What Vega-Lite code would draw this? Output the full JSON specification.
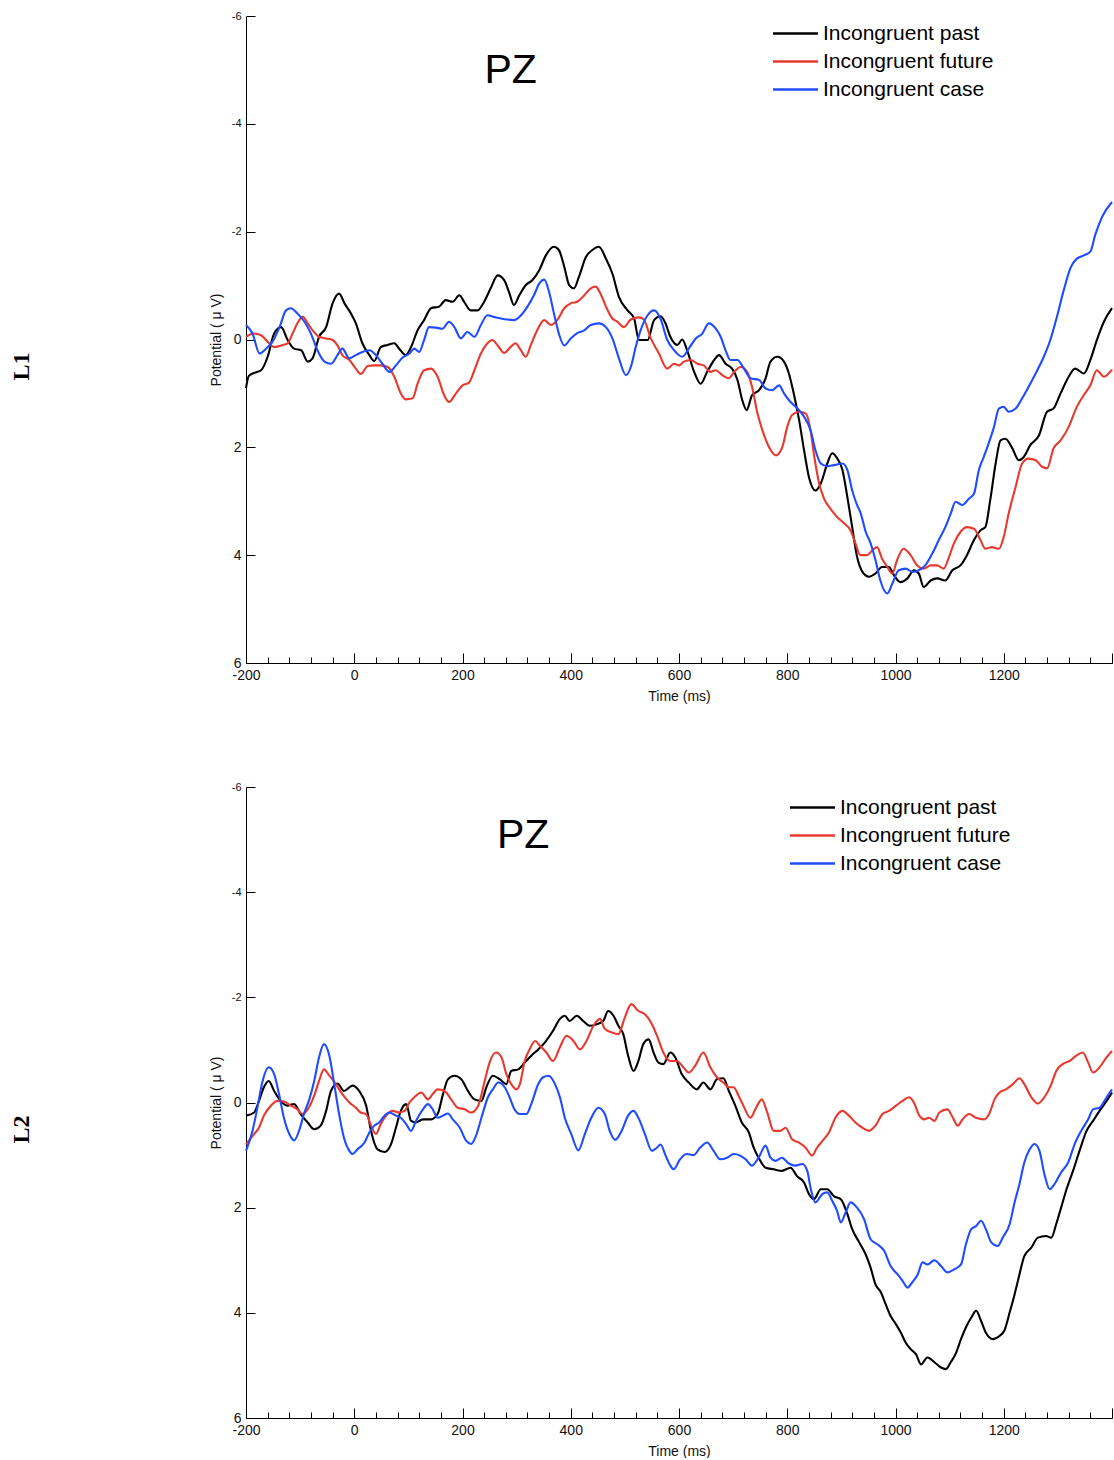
{
  "$schema": "https://vega.github.io/schema/vega-lite/v6.json",
  "padding": {"left": 10, "top": 10, "right": 2, "bottom": 0},
  "background": "white",
  "config": {
    "view": {"stroke": null},
    "font": "Liberation Sans",
    "axis": {"grid": false, "domainColor": "black", "tickColor": "black", "labelColor": "#111", "titleColor": "#111", "labelFont": "Liberation Sans", "titleFont": "Liberation Sans", "titleFontWeight": "normal", "labelFontSize": 14, "titleFontSize": 14, "domainWidth": 1, "tickWidth": 1}
  },
  "datasets": {
    "l1": [
      {"s":"past","t":-200,"v":0.9},{"s":"past","t":-195,"v":0.68},{"s":"past","t":-185,"v":0.62},{"s":"past","t":-172,"v":0.57},{"s":"past","t":-160,"v":0.32},{"s":"past","t":-148,"v":-0.11},{"s":"past","t":-135,"v":-0.23},{"s":"past","t":-123,"v":0.01},{"s":"past","t":-111,"v":0.17},{"s":"past","t":-98,"v":0.2},{"s":"past","t":-86,"v":0.41},{"s":"past","t":-77,"v":0.35},{"s":"past","t":-65,"v":-0.05},{"s":"past","t":-52,"v":-0.23},{"s":"past","t":-40,"v":-0.67},{"s":"past","t":-28,"v":-0.85},{"s":"past","t":-18,"v":-0.67},{"s":"past","t":-6,"v":-0.48},{"s":"past","t":3,"v":-0.3},{"s":"past","t":15,"v":0.07},{"s":"past","t":28,"v":0.29},{"s":"past","t":37,"v":0.4},{"s":"past","t":49,"v":0.14},{"s":"past","t":62,"v":0.1},{"s":"past","t":74,"v":0.07},{"s":"past","t":83,"v":0.17},{"s":"past","t":95,"v":0.29},{"s":"past","t":105,"v":0.14},{"s":"past","t":117,"v":-0.17},{"s":"past","t":129,"v":-0.36},{"s":"past","t":142,"v":-0.58},{"s":"past","t":157,"v":-0.61},{"s":"past","t":169,"v":-0.73},{"s":"past","t":182,"v":-0.7},{"s":"past","t":194,"v":-0.82},{"s":"past","t":203,"v":-0.7},{"s":"past","t":215,"v":-0.54},{"s":"past","t":228,"v":-0.54},{"s":"past","t":240,"v":-0.7},{"s":"past","t":252,"v":-0.95},{"s":"past","t":265,"v":-1.19},{"s":"past","t":277,"v":-1.1},{"s":"past","t":286,"v":-0.88},{"s":"past","t":295,"v":-0.64},{"s":"past","t":305,"v":-0.82},{"s":"past","t":317,"v":-1.01},{"s":"past","t":329,"v":-1.1},{"s":"past","t":342,"v":-1.29},{"s":"past","t":354,"v":-1.56},{"s":"past","t":369,"v":-1.72},{"s":"past","t":378,"v":-1.66},{"s":"past","t":388,"v":-1.35},{"s":"past","t":397,"v":-1.01},{"s":"past","t":406,"v":-0.95},{"s":"past","t":415,"v":-1.16},{"s":"past","t":428,"v":-1.53},{"s":"past","t":440,"v":-1.66},{"s":"past","t":452,"v":-1.72},{"s":"past","t":465,"v":-1.5},{"s":"past","t":477,"v":-1.22},{"s":"past","t":489,"v":-0.79},{"s":"past","t":505,"v":-0.54},{"s":"past","t":517,"v":-0.39},{"s":"past","t":526,"v":0.01},{"s":"past","t":542,"v":0.01},{"s":"past","t":554,"v":-0.36},{"s":"past","t":566,"v":-0.43},{"s":"past","t":575,"v":-0.3},{"s":"past","t":584,"v":-0.05},{"s":"past","t":597,"v":0.1},{"s":"past","t":606,"v":0},{"s":"past","t":615,"v":0.2},{"s":"past","t":628,"v":0.6},{"s":"past","t":640,"v":0.82},{"s":"past","t":652,"v":0.6},{"s":"past","t":665,"v":0.38},{"s":"past","t":674,"v":0.29},{"s":"past","t":686,"v":0.45},{"s":"past","t":698,"v":0.54},{"s":"past","t":708,"v":0.75},{"s":"past","t":717,"v":1.13},{"s":"past","t":725,"v":1.31},{"s":"past","t":735,"v":1.03},{"s":"past","t":748,"v":0.94},{"s":"past","t":760,"v":0.72},{"s":"past","t":769,"v":0.41},{"s":"past","t":782,"v":0.32},{"s":"past","t":794,"v":0.41},{"s":"past","t":803,"v":0.63},{"s":"past","t":812,"v":1.0},{"s":"past","t":822,"v":1.5},{"s":"past","t":831,"v":2.05},{"s":"past","t":840,"v":2.55},{"s":"past","t":852,"v":2.8},{"s":"past","t":862,"v":2.67},{"s":"past","t":874,"v":2.3},{"s":"past","t":883,"v":2.11},{"s":"past","t":892,"v":2.2},{"s":"past","t":902,"v":2.42},{"s":"past","t":911,"v":2.92},{"s":"past","t":920,"v":3.48},{"s":"past","t":929,"v":4.03},{"s":"past","t":939,"v":4.31},{"s":"past","t":951,"v":4.4},{"s":"past","t":963,"v":4.34},{"s":"past","t":975,"v":4.22},{"s":"past","t":988,"v":4.22},{"s":"past","t":997,"v":4.37},{"s":"past","t":1009,"v":4.5},{"s":"past","t":1022,"v":4.43},{"s":"past","t":1034,"v":4.28},{"s":"past","t":1043,"v":4.34},{"s":"past","t":1052,"v":4.59},{"s":"past","t":1065,"v":4.47},{"s":"past","t":1077,"v":4.43},{"s":"past","t":1092,"v":4.47},{"s":"past","t":1105,"v":4.28},{"s":"past","t":1120,"v":4.19},{"s":"past","t":1132,"v":4.0},{"s":"past","t":1145,"v":3.72},{"s":"past","t":1157,"v":3.54},{"s":"past","t":1166,"v":3.48},{"s":"past","t":1175,"v":2.98},{"s":"past","t":1185,"v":2.3},{"s":"past","t":1194,"v":1.87},{"s":"past","t":1203,"v":1.84},{"s":"past","t":1215,"v":2.0},{"s":"past","t":1228,"v":2.24},{"s":"past","t":1237,"v":2.18},{"s":"past","t":1249,"v":1.96},{"s":"past","t":1265,"v":1.78},{"s":"past","t":1280,"v":1.34},{"s":"past","t":1292,"v":1.28},{"s":"past","t":1305,"v":1.0},{"s":"past","t":1320,"v":0.69},{"s":"past","t":1332,"v":0.54},{"s":"past","t":1348,"v":0.63},{"s":"past","t":1360,"v":0.38},{"s":"past","t":1372,"v":0.01},{"s":"past","t":1385,"v":-0.33},{"s":"past","t":1400,"v":-0.58},
      {"s":"future","t":-200,"v":-0.05},{"s":"future","t":-185,"v":-0.11},{"s":"future","t":-172,"v":-0.08},{"s":"future","t":-160,"v":0.04},{"s":"future","t":-148,"v":0.14},{"s":"future","t":-135,"v":0.11},{"s":"future","t":-123,"v":0.07},{"s":"future","t":-114,"v":-0.11},{"s":"future","t":-105,"v":-0.3},{"s":"future","t":-95,"v":-0.42},{"s":"future","t":-86,"v":-0.3},{"s":"future","t":-77,"v":-0.17},{"s":"future","t":-65,"v":-0.05},{"s":"future","t":-52,"v":-0.02},{"s":"future","t":-40,"v":0.01},{"s":"future","t":-31,"v":0.11},{"s":"future","t":-22,"v":0.29},{"s":"future","t":-9,"v":0.38},{"s":"future","t":3,"v":0.54},{"s":"future","t":12,"v":0.64},{"s":"future","t":25,"v":0.49},{"s":"future","t":37,"v":0.48},{"s":"future","t":49,"v":0.48},{"s":"future","t":62,"v":0.51},{"s":"future","t":74,"v":0.69},{"s":"future","t":86,"v":1.0},{"s":"future","t":95,"v":1.11},{"s":"future","t":108,"v":1.09},{"s":"future","t":117,"v":0.82},{"s":"future","t":129,"v":0.57},{"s":"future","t":142,"v":0.54},{"s":"future","t":154,"v":0.69},{"s":"future","t":166,"v":1.03},{"s":"future","t":175,"v":1.16},{"s":"future","t":188,"v":1.0},{"s":"future","t":200,"v":0.85},{"s":"future","t":212,"v":0.8},{"s":"future","t":222,"v":0.57},{"s":"future","t":234,"v":0.26},{"s":"future","t":246,"v":0.07},{"s":"future","t":255,"v":0.01},{"s":"future","t":265,"v":0.11},{"s":"future","t":277,"v":0.25},{"s":"future","t":286,"v":0.17},{"s":"future","t":298,"v":0.07},{"s":"future","t":308,"v":0.2},{"s":"future","t":317,"v":0.32},{"s":"future","t":326,"v":0.11},{"s":"future","t":338,"v":-0.17},{"s":"future","t":351,"v":-0.36},{"s":"future","t":363,"v":-0.27},{"s":"future","t":375,"v":-0.36},{"s":"future","t":388,"v":-0.58},{"s":"future","t":400,"v":-0.67},{"s":"future","t":412,"v":-0.7},{"s":"future","t":425,"v":-0.82},{"s":"future","t":437,"v":-0.95},{"s":"future","t":446,"v":-0.98},{"s":"future","t":455,"v":-0.85},{"s":"future","t":465,"v":-0.61},{"s":"future","t":477,"v":-0.39},{"s":"future","t":486,"v":-0.33},{"s":"future","t":498,"v":-0.23},{"s":"future","t":511,"v":-0.37},{"s":"future","t":526,"v":-0.41},{"s":"future","t":535,"v":-0.37},{"s":"future","t":548,"v":-0.02},{"s":"future","t":563,"v":0.26},{"s":"future","t":578,"v":0.54},{"s":"future","t":591,"v":0.45},{"s":"future","t":600,"v":0.48},{"s":"future","t":609,"v":0.41},{"s":"future","t":622,"v":0.38},{"s":"future","t":634,"v":0.45},{"s":"future","t":646,"v":0.48},{"s":"future","t":658,"v":0.6},{"s":"future","t":668,"v":0.57},{"s":"future","t":680,"v":0.66},{"s":"future","t":692,"v":0.72},{"s":"future","t":702,"v":0.6},{"s":"future","t":714,"v":0.51},{"s":"future","t":726,"v":0.6},{"s":"future","t":735,"v":0.88},{"s":"future","t":745,"v":1.37},{"s":"future","t":754,"v":1.68},{"s":"future","t":766,"v":1.99},{"s":"future","t":779,"v":2.15},{"s":"future","t":791,"v":1.99},{"s":"future","t":800,"v":1.62},{"s":"future","t":809,"v":1.4},{"s":"future","t":822,"v":1.34},{"s":"future","t":834,"v":1.37},{"s":"future","t":843,"v":1.68},{"s":"future","t":849,"v":2.11},{"s":"future","t":859,"v":2.67},{"s":"future","t":868,"v":2.95},{"s":"future","t":880,"v":3.14},{"s":"future","t":892,"v":3.29},{"s":"future","t":905,"v":3.41},{"s":"future","t":917,"v":3.54},{"s":"future","t":926,"v":3.78},{"s":"future","t":935,"v":4.0},{"s":"future","t":948,"v":4.0},{"s":"future","t":957,"v":3.91},{"s":"future","t":966,"v":3.85},{"s":"future","t":975,"v":4.06},{"s":"future","t":985,"v":4.22},{"s":"future","t":994,"v":4.34},{"s":"future","t":1003,"v":4.09},{"s":"future","t":1015,"v":3.88},{"s":"future","t":1028,"v":4.0},{"s":"future","t":1040,"v":4.19},{"s":"future","t":1052,"v":4.25},{"s":"future","t":1065,"v":4.19},{"s":"future","t":1077,"v":4.19},{"s":"future","t":1089,"v":4.25},{"s":"future","t":1099,"v":4.03},{"s":"future","t":1108,"v":3.78},{"s":"future","t":1120,"v":3.57},{"s":"future","t":1132,"v":3.48},{"s":"future","t":1145,"v":3.51},{"s":"future","t":1157,"v":3.72},{"s":"future","t":1166,"v":3.88},{"s":"future","t":1178,"v":3.85},{"s":"future","t":1191,"v":3.88},{"s":"future","t":1200,"v":3.66},{"s":"future","t":1209,"v":3.23},{"s":"future","t":1222,"v":2.73},{"s":"future","t":1234,"v":2.3},{"s":"future","t":1246,"v":2.21},{"s":"future","t":1259,"v":2.24},{"s":"future","t":1271,"v":2.36},{"s":"future","t":1280,"v":2.39},{"s":"future","t":1292,"v":2.02},{"s":"future","t":1305,"v":1.87},{"s":"future","t":1320,"v":1.62},{"s":"future","t":1335,"v":1.25},{"s":"future","t":1348,"v":1.03},{"s":"future","t":1360,"v":0.85},{"s":"future","t":1372,"v":0.57},{"s":"future","t":1385,"v":0.69},{"s":"future","t":1400,"v":0.56},
      {"s":"case","t":-200,"v":-0.27},{"s":"case","t":-188,"v":-0.11},{"s":"case","t":-175,"v":0.26},{"s":"case","t":-163,"v":0.17},{"s":"case","t":-151,"v":0.04},{"s":"case","t":-138,"v":-0.23},{"s":"case","t":-126,"v":-0.54},{"s":"case","t":-117,"v":-0.58},{"s":"case","t":-105,"v":-0.48},{"s":"case","t":-92,"v":-0.33},{"s":"case","t":-80,"v":-0.11},{"s":"case","t":-68,"v":0.2},{"s":"case","t":-55,"v":0.41},{"s":"case","t":-43,"v":0.45},{"s":"case","t":-31,"v":0.29},{"s":"case","t":-22,"v":0.17},{"s":"case","t":-9,"v":0.35},{"s":"case","t":3,"v":0.29},{"s":"case","t":15,"v":0.23},{"s":"case","t":28,"v":0.2},{"s":"case","t":40,"v":0.29},{"s":"case","t":52,"v":0.45},{"s":"case","t":65,"v":0.6},{"s":"case","t":77,"v":0.48},{"s":"case","t":89,"v":0.34},{"s":"case","t":102,"v":0.26},{"s":"case","t":111,"v":0.17},{"s":"case","t":120,"v":0.23},{"s":"case","t":129,"v":0.01},{"s":"case","t":138,"v":-0.23},{"s":"case","t":151,"v":-0.22},{"s":"case","t":163,"v":-0.2},{"s":"case","t":175,"v":-0.33},{"s":"case","t":185,"v":-0.23},{"s":"case","t":197,"v":-0.02},{"s":"case","t":209,"v":-0.14},{"s":"case","t":222,"v":-0.05},{"s":"case","t":234,"v":-0.27},{"s":"case","t":246,"v":-0.45},{"s":"case","t":258,"v":-0.42},{"s":"case","t":271,"v":-0.39},{"s":"case","t":283,"v":-0.37},{"s":"case","t":295,"v":-0.36},{"s":"case","t":308,"v":-0.45},{"s":"case","t":320,"v":-0.61},{"s":"case","t":332,"v":-0.82},{"s":"case","t":342,"v":-1.04},{"s":"case","t":351,"v":-1.11},{"s":"case","t":360,"v":-0.88},{"s":"case","t":369,"v":-0.48},{"s":"case","t":378,"v":-0.11},{"s":"case","t":388,"v":0.11},{"s":"case","t":400,"v":-0.02},{"s":"case","t":412,"v":-0.12},{"s":"case","t":425,"v":-0.17},{"s":"case","t":437,"v":-0.27},{"s":"case","t":452,"v":-0.3},{"s":"case","t":465,"v":-0.23},{"s":"case","t":477,"v":-0.02},{"s":"case","t":489,"v":0.35},{"s":"case","t":502,"v":0.66},{"s":"case","t":511,"v":0.51},{"s":"case","t":520,"v":0.14},{"s":"case","t":529,"v":-0.17},{"s":"case","t":542,"v":-0.45},{"s":"case","t":554,"v":-0.54},{"s":"case","t":566,"v":-0.38},{"s":"case","t":578,"v":0.0},{"s":"case","t":591,"v":0.2},{"s":"case","t":606,"v":0.32},{"s":"case","t":618,"v":0.17},{"s":"case","t":631,"v":-0.02},{"s":"case","t":643,"v":-0.11},{"s":"case","t":655,"v":-0.3},{"s":"case","t":668,"v":-0.2},{"s":"case","t":677,"v":-0.05},{"s":"case","t":686,"v":0.2},{"s":"case","t":695,"v":0.38},{"s":"case","t":708,"v":0.38},{"s":"case","t":720,"v":0.54},{"s":"case","t":732,"v":0.72},{"s":"case","t":748,"v":0.75},{"s":"case","t":760,"v":0.91},{"s":"case","t":772,"v":0.94},{"s":"case","t":785,"v":0.85},{"s":"case","t":794,"v":1.0},{"s":"case","t":806,"v":1.16},{"s":"case","t":819,"v":1.28},{"s":"case","t":831,"v":1.43},{"s":"case","t":843,"v":1.68},{"s":"case","t":852,"v":2.05},{"s":"case","t":862,"v":2.3},{"s":"case","t":874,"v":2.35},{"s":"case","t":886,"v":2.33},{"s":"case","t":902,"v":2.3},{"s":"case","t":911,"v":2.42},{"s":"case","t":920,"v":2.8},{"s":"case","t":929,"v":3.07},{"s":"case","t":935,"v":3.2},{"s":"case","t":945,"v":3.57},{"s":"case","t":954,"v":3.78},{"s":"case","t":963,"v":4.09},{"s":"case","t":972,"v":4.47},{"s":"case","t":985,"v":4.71},{"s":"case","t":994,"v":4.53},{"s":"case","t":1006,"v":4.28},{"s":"case","t":1019,"v":4.25},{"s":"case","t":1031,"v":4.31},{"s":"case","t":1043,"v":4.28},{"s":"case","t":1055,"v":4.19},{"s":"case","t":1068,"v":3.97},{"s":"case","t":1080,"v":3.72},{"s":"case","t":1092,"v":3.48},{"s":"case","t":1102,"v":3.23},{"s":"case","t":1111,"v":3.01},{"s":"case","t":1123,"v":3.07},{"s":"case","t":1136,"v":2.95},{"s":"case","t":1145,"v":2.86},{"s":"case","t":1154,"v":2.42},{"s":"case","t":1163,"v":2.18},{"s":"case","t":1172,"v":1.93},{"s":"case","t":1182,"v":1.62},{"s":"case","t":1191,"v":1.28},{"s":"case","t":1200,"v":1.25},{"s":"case","t":1209,"v":1.34},{"s":"case","t":1222,"v":1.28},{"s":"case","t":1234,"v":1.09},{"s":"case","t":1249,"v":0.82},{"s":"case","t":1262,"v":0.57},{"s":"case","t":1274,"v":0.32},{"s":"case","t":1286,"v":0.01},{"s":"case","t":1299,"v":-0.45},{"s":"case","t":1311,"v":-0.92},{"s":"case","t":1323,"v":-1.32},{"s":"case","t":1335,"v":-1.5},{"s":"case","t":1348,"v":-1.56},{"s":"case","t":1360,"v":-1.63},{"s":"case","t":1369,"v":-1.94},{"s":"case","t":1382,"v":-2.28},{"s":"case","t":1400,"v":-2.55}
    ],
    "l2": [
      {"s":"past","t":-200,"v":0.25},{"s":"past","t":-185,"v":0.19},{"s":"past","t":-176,"v":-0.03},{"s":"past","t":-167,"v":-0.29},{"s":"past","t":-158,"v":-0.41},{"s":"past","t":-148,"v":-0.22},{"s":"past","t":-136,"v":-0.03},{"s":"past","t":-124,"v":0.06},{"s":"past","t":-111,"v":0.03},{"s":"past","t":-99,"v":0.22},{"s":"past","t":-86,"v":0.38},{"s":"past","t":-74,"v":0.51},{"s":"past","t":-62,"v":0.44},{"s":"past","t":-52,"v":0.16},{"s":"past","t":-43,"v":-0.22},{"s":"past","t":-31,"v":-0.36},{"s":"past","t":-19,"v":-0.22},{"s":"past","t":-3,"v":-0.32},{"s":"past","t":9,"v":-0.22},{"s":"past","t":22,"v":0.06},{"s":"past","t":31,"v":0.54},{"s":"past","t":43,"v":0.89},{"s":"past","t":56,"v":0.94},{"s":"past","t":68,"v":0.79},{"s":"past","t":77,"v":0.48},{"s":"past","t":86,"v":0.16},{"s":"past","t":96,"v":0.03},{"s":"past","t":105,"v":0.35},{"s":"past","t":114,"v":0.38},{"s":"past","t":127,"v":0.32},{"s":"past","t":142,"v":0.32},{"s":"past","t":154,"v":0.22},{"s":"past","t":164,"v":-0.16},{"s":"past","t":173,"v":-0.44},{"s":"past","t":185,"v":-0.51},{"s":"past","t":198,"v":-0.44},{"s":"past","t":210,"v":-0.22},{"s":"past","t":222,"v":-0.06},{"s":"past","t":235,"v":-0.03},{"s":"past","t":244,"v":-0.29},{"s":"past","t":256,"v":-0.51},{"s":"past","t":269,"v":-0.44},{"s":"past","t":281,"v":-0.35},{"s":"past","t":290,"v":-0.6},{"s":"past","t":303,"v":-0.63},{"s":"past","t":315,"v":-0.76},{"s":"past","t":327,"v":-0.89},{"s":"past","t":340,"v":-1.01},{"s":"past","t":352,"v":-1.14},{"s":"past","t":367,"v":-1.36},{"s":"past","t":380,"v":-1.59},{"s":"past","t":389,"v":-1.65},{"s":"past","t":398,"v":-1.55},{"s":"past","t":411,"v":-1.65},{"s":"past","t":423,"v":-1.55},{"s":"past","t":435,"v":-1.46},{"s":"past","t":448,"v":-1.49},{"s":"past","t":460,"v":-1.55},{"s":"past","t":469,"v":-1.74},{"s":"past","t":479,"v":-1.65},{"s":"past","t":488,"v":-1.46},{"s":"past","t":497,"v":-1.3},{"s":"past","t":506,"v":-0.89},{"s":"past","t":516,"v":-0.6},{"s":"past","t":525,"v":-0.79},{"s":"past","t":534,"v":-1.11},{"s":"past","t":544,"v":-1.2},{"s":"past","t":553,"v":-0.95},{"s":"past","t":562,"v":-0.76},{"s":"past","t":571,"v":-0.73},{"s":"past","t":584,"v":-0.95},{"s":"past","t":593,"v":-0.86},{"s":"past","t":605,"v":-0.54},{"s":"past","t":618,"v":-0.38},{"s":"past","t":633,"v":-0.25},{"s":"past","t":645,"v":-0.38},{"s":"past","t":658,"v":-0.25},{"s":"past","t":670,"v":-0.44},{"s":"past","t":682,"v":-0.46},{"s":"past","t":692,"v":-0.22},{"s":"past","t":704,"v":0.06},{"s":"past","t":716,"v":0.38},{"s":"past","t":729,"v":0.57},{"s":"past","t":738,"v":0.86},{"s":"past","t":747,"v":1.05},{"s":"past","t":760,"v":1.24},{"s":"past","t":775,"v":1.27},{"s":"past","t":790,"v":1.3},{"s":"past","t":806,"v":1.24},{"s":"past","t":818,"v":1.4},{"s":"past","t":831,"v":1.52},{"s":"past","t":840,"v":1.74},{"s":"past","t":849,"v":1.84},{"s":"past","t":862,"v":1.65},{"s":"past","t":874,"v":1.65},{"s":"past","t":886,"v":1.78},{"s":"past","t":899,"v":1.84},{"s":"past","t":911,"v":2.12},{"s":"past","t":920,"v":2.41},{"s":"past","t":933,"v":2.66},{"s":"past","t":945,"v":2.89},{"s":"past","t":954,"v":3.14},{"s":"past","t":963,"v":3.46},{"s":"past","t":973,"v":3.61},{"s":"past","t":982,"v":3.84},{"s":"past","t":991,"v":4.06},{"s":"past","t":1001,"v":4.22},{"s":"past","t":1010,"v":4.38},{"s":"past","t":1019,"v":4.57},{"s":"past","t":1028,"v":4.69},{"s":"past","t":1038,"v":4.79},{"s":"past","t":1047,"v":4.98},{"s":"past","t":1059,"v":4.85},{"s":"past","t":1072,"v":4.94},{"s":"past","t":1084,"v":5.04},{"s":"past","t":1093,"v":5.07},{"s":"past","t":1102,"v":4.94},{"s":"past","t":1112,"v":4.76},{"s":"past","t":1121,"v":4.5},{"s":"past","t":1130,"v":4.28},{"s":"past","t":1140,"v":4.09},{"s":"past","t":1149,"v":3.96},{"s":"past","t":1158,"v":4.15},{"s":"past","t":1167,"v":4.38},{"s":"past","t":1180,"v":4.5},{"s":"past","t":1192,"v":4.44},{"s":"past","t":1201,"v":4.34},{"s":"past","t":1211,"v":3.99},{"s":"past","t":1220,"v":3.65},{"s":"past","t":1229,"v":3.27},{"s":"past","t":1238,"v":2.92},{"s":"past","t":1251,"v":2.76},{"s":"past","t":1263,"v":2.57},{"s":"past","t":1278,"v":2.54},{"s":"past","t":1288,"v":2.57},{"s":"past","t":1297,"v":2.31},{"s":"past","t":1306,"v":2.0},{"s":"past","t":1316,"v":1.65},{"s":"past","t":1328,"v":1.3},{"s":"past","t":1340,"v":0.92},{"s":"past","t":1353,"v":0.54},{"s":"past","t":1365,"v":0.35},{"s":"past","t":1377,"v":0.16},{"s":"past","t":1390,"v":-0.03},{"s":"past","t":1400,"v":-0.19},
      {"s":"future","t":-200,"v":0.79},{"s":"future","t":-185,"v":0.6},{"s":"future","t":-176,"v":0.48},{"s":"future","t":-167,"v":0.25},{"s":"future","t":-154,"v":0.06},{"s":"future","t":-142,"v":-0.03},{"s":"future","t":-130,"v":-0.02},{"s":"future","t":-117,"v":0.06},{"s":"future","t":-105,"v":0.13},{"s":"future","t":-96,"v":0.22},{"s":"future","t":-86,"v":0.13},{"s":"future","t":-74,"v":-0.13},{"s":"future","t":-65,"v":-0.41},{"s":"future","t":-56,"v":-0.63},{"s":"future","t":-46,"v":-0.51},{"s":"future","t":-34,"v":-0.35},{"s":"future","t":-22,"v":-0.16},{"s":"future","t":-9,"v":0},{"s":"future","t":3,"v":0.1},{"s":"future","t":12,"v":0.19},{"s":"future","t":22,"v":0.22},{"s":"future","t":31,"v":0.44},{"s":"future","t":40,"v":0.6},{"s":"future","t":49,"v":0.41},{"s":"future","t":59,"v":0.25},{"s":"future","t":71,"v":0.16},{"s":"future","t":83,"v":0.19},{"s":"future","t":93,"v":0.16},{"s":"future","t":102,"v":0},{"s":"future","t":111,"v":-0.1},{"s":"future","t":124,"v":-0.19},{"s":"future","t":136,"v":-0.06},{"s":"future","t":145,"v":-0.16},{"s":"future","t":154,"v":-0.25},{"s":"future","t":167,"v":-0.22},{"s":"future","t":179,"v":-0.06},{"s":"future","t":191,"v":0.1},{"s":"future","t":204,"v":0.13},{"s":"future","t":216,"v":0.19},{"s":"future","t":229,"v":0.06},{"s":"future","t":241,"v":-0.41},{"s":"future","t":250,"v":-0.76},{"s":"future","t":262,"v":-0.95},{"s":"future","t":272,"v":-0.86},{"s":"future","t":281,"v":-0.54},{"s":"future","t":290,"v":-0.35},{"s":"future","t":300,"v":-0.25},{"s":"future","t":306,"v":-0.35},{"s":"future","t":315,"v":-0.79},{"s":"future","t":324,"v":-1.01},{"s":"future","t":334,"v":-1.17},{"s":"future","t":343,"v":-1.08},{"s":"future","t":355,"v":-0.95},{"s":"future","t":367,"v":-0.79},{"s":"future","t":380,"v":-1.05},{"s":"future","t":392,"v":-1.27},{"s":"future","t":405,"v":-1.17},{"s":"future","t":417,"v":-1.01},{"s":"future","t":429,"v":-1.17},{"s":"future","t":442,"v":-1.46},{"s":"future","t":454,"v":-1.59},{"s":"future","t":463,"v":-1.4},{"s":"future","t":476,"v":-1.33},{"s":"future","t":488,"v":-1.3},{"s":"future","t":500,"v":-1.62},{"s":"future","t":512,"v":-1.87},{"s":"future","t":525,"v":-1.74},{"s":"future","t":537,"v":-1.68},{"s":"future","t":550,"v":-1.49},{"s":"future","t":562,"v":-1.2},{"s":"future","t":571,"v":-0.95},{"s":"future","t":584,"v":-0.79},{"s":"future","t":596,"v":-0.79},{"s":"future","t":608,"v":-0.67},{"s":"future","t":618,"v":-0.57},{"s":"future","t":630,"v":-0.7},{"s":"future","t":645,"v":-0.95},{"s":"future","t":658,"v":-0.67},{"s":"future","t":670,"v":-0.48},{"s":"future","t":682,"v":-0.38},{"s":"future","t":692,"v":-0.29},{"s":"future","t":701,"v":-0.29},{"s":"future","t":710,"v":-0.13},{"s":"future","t":719,"v":0.06},{"s":"future","t":732,"v":0.29},{"s":"future","t":741,"v":0.13},{"s":"future","t":753,"v":-0.06},{"s":"future","t":763,"v":0.19},{"s":"future","t":775,"v":0.54},{"s":"future","t":787,"v":0.54},{"s":"future","t":797,"v":0.48},{"s":"future","t":809,"v":0.7},{"s":"future","t":821,"v":0.76},{"s":"future","t":834,"v":0.86},{"s":"future","t":846,"v":1.01},{"s":"future","t":855,"v":0.86},{"s":"future","t":865,"v":0.73},{"s":"future","t":877,"v":0.57},{"s":"future","t":889,"v":0.29},{"s":"future","t":902,"v":0.16},{"s":"future","t":914,"v":0.25},{"s":"future","t":926,"v":0.38},{"s":"future","t":939,"v":0.48},{"s":"future","t":951,"v":0.54},{"s":"future","t":963,"v":0.44},{"s":"future","t":976,"v":0.22},{"s":"future","t":988,"v":0.16},{"s":"future","t":1001,"v":0.06},{"s":"future","t":1013,"v":-0.03},{"s":"future","t":1025,"v":-0.1},{"s":"future","t":1034,"v":0},{"s":"future","t":1044,"v":0.25},{"s":"future","t":1053,"v":0.32},{"s":"future","t":1062,"v":0.29},{"s":"future","t":1072,"v":0.35},{"s":"future","t":1081,"v":0.19},{"s":"future","t":1096,"v":0.13},{"s":"future","t":1106,"v":0.29},{"s":"future","t":1115,"v":0.44},{"s":"future","t":1124,"v":0.32},{"s":"future","t":1136,"v":0.22},{"s":"future","t":1149,"v":0.29},{"s":"future","t":1164,"v":0.32},{"s":"future","t":1173,"v":0.22},{"s":"future","t":1183,"v":-0.06},{"s":"future","t":1192,"v":-0.19},{"s":"future","t":1204,"v":-0.25},{"s":"future","t":1217,"v":-0.35},{"s":"future","t":1229,"v":-0.46},{"s":"future","t":1238,"v":-0.35},{"s":"future","t":1251,"v":-0.1},{"s":"future","t":1263,"v":0.02},{"s":"future","t":1275,"v":-0.1},{"s":"future","t":1288,"v":-0.35},{"s":"future","t":1297,"v":-0.6},{"s":"future","t":1309,"v":-0.73},{"s":"future","t":1322,"v":-0.79},{"s":"future","t":1334,"v":-0.89},{"s":"future","t":1346,"v":-0.95},{"s":"future","t":1356,"v":-0.76},{"s":"future","t":1365,"v":-0.57},{"s":"future","t":1377,"v":-0.67},{"s":"future","t":1390,"v":-0.86},{"s":"future","t":1400,"v":-0.98},
      {"s":"case","t":-200,"v":0.92},{"s":"case","t":-188,"v":0.54},{"s":"case","t":-179,"v":0.1},{"s":"case","t":-170,"v":-0.38},{"s":"case","t":-158,"v":-0.67},{"s":"case","t":-148,"v":-0.54},{"s":"case","t":-139,"v":-0.16},{"s":"case","t":-130,"v":0.29},{"s":"case","t":-120,"v":0.6},{"s":"case","t":-111,"v":0.72},{"s":"case","t":-102,"v":0.54},{"s":"case","t":-93,"v":0.22},{"s":"case","t":-83,"v":-0.06},{"s":"case","t":-74,"v":-0.41},{"s":"case","t":-65,"v":-0.86},{"s":"case","t":-56,"v":-1.11},{"s":"case","t":-46,"v":-0.89},{"s":"case","t":-37,"v":-0.35},{"s":"case","t":-28,"v":0.22},{"s":"case","t":-19,"v":0.67},{"s":"case","t":-9,"v":0.92},{"s":"case","t":-3,"v":0.98},{"s":"case","t":6,"v":0.89},{"s":"case","t":19,"v":0.76},{"s":"case","t":28,"v":0.57},{"s":"case","t":37,"v":0.44},{"s":"case","t":46,"v":0.38},{"s":"case","t":56,"v":0.25},{"s":"case","t":65,"v":0.19},{"s":"case","t":77,"v":0.25},{"s":"case","t":86,"v":0.29},{"s":"case","t":96,"v":0.41},{"s":"case","t":105,"v":0.54},{"s":"case","t":114,"v":0.35},{"s":"case","t":127,"v":0.13},{"s":"case","t":136,"v":0.03},{"s":"case","t":145,"v":0.13},{"s":"case","t":154,"v":0.29},{"s":"case","t":164,"v":0.25},{"s":"case","t":173,"v":0.21},{"s":"case","t":182,"v":0.32},{"s":"case","t":195,"v":0.48},{"s":"case","t":207,"v":0.73},{"s":"case","t":216,"v":0.79},{"s":"case","t":225,"v":0.63},{"s":"case","t":235,"v":0.29},{"s":"case","t":247,"v":-0.1},{"s":"case","t":256,"v":-0.25},{"s":"case","t":266,"v":-0.38},{"s":"case","t":278,"v":-0.29},{"s":"case","t":287,"v":-0.1},{"s":"case","t":296,"v":0.13},{"s":"case","t":306,"v":0.22},{"s":"case","t":318,"v":0.22},{"s":"case","t":327,"v":0.03},{"s":"case","t":340,"v":-0.35},{"s":"case","t":349,"v":-0.48},{"s":"case","t":359,"v":-0.51},{"s":"case","t":371,"v":-0.35},{"s":"case","t":380,"v":-0.1},{"s":"case","t":389,"v":0.29},{"s":"case","t":401,"v":0.6},{"s":"case","t":414,"v":0.91},{"s":"case","t":426,"v":0.6},{"s":"case","t":438,"v":0.29},{"s":"case","t":451,"v":0.1},{"s":"case","t":463,"v":0.22},{"s":"case","t":472,"v":0.54},{"s":"case","t":482,"v":0.71},{"s":"case","t":494,"v":0.54},{"s":"case","t":506,"v":0.25},{"s":"case","t":516,"v":0.16},{"s":"case","t":525,"v":0.29},{"s":"case","t":537,"v":0.6},{"s":"case","t":550,"v":0.92},{"s":"case","t":559,"v":0.86},{"s":"case","t":566,"v":0.8},{"s":"case","t":575,"v":1.0},{"s":"case","t":584,"v":1.2},{"s":"case","t":590,"v":1.27},{"s":"case","t":602,"v":1.08},{"s":"case","t":614,"v":0.98},{"s":"case","t":627,"v":1.0},{"s":"case","t":639,"v":0.86},{"s":"case","t":652,"v":0.76},{"s":"case","t":664,"v":0.92},{"s":"case","t":676,"v":1.08},{"s":"case","t":689,"v":1.05},{"s":"case","t":701,"v":0.98},{"s":"case","t":713,"v":1.01},{"s":"case","t":723,"v":1.08},{"s":"case","t":735,"v":1.2},{"s":"case","t":747,"v":1.05},{"s":"case","t":760,"v":0.82},{"s":"case","t":769,"v":1.05},{"s":"case","t":778,"v":1.11},{"s":"case","t":790,"v":1.05},{"s":"case","t":803,"v":1.16},{"s":"case","t":815,"v":1.2},{"s":"case","t":828,"v":1.17},{"s":"case","t":837,"v":1.3},{"s":"case","t":843,"v":1.62},{"s":"case","t":852,"v":1.9},{"s":"case","t":865,"v":1.74},{"s":"case","t":874,"v":1.71},{"s":"case","t":883,"v":1.87},{"s":"case","t":892,"v":2.06},{"s":"case","t":899,"v":2.28},{"s":"case","t":908,"v":2.09},{"s":"case","t":917,"v":1.9},{"s":"case","t":929,"v":2.0},{"s":"case","t":942,"v":2.22},{"s":"case","t":954,"v":2.6},{"s":"case","t":967,"v":2.7},{"s":"case","t":979,"v":2.82},{"s":"case","t":991,"v":3.11},{"s":"case","t":1004,"v":3.27},{"s":"case","t":1013,"v":3.39},{"s":"case","t":1022,"v":3.52},{"s":"case","t":1031,"v":3.42},{"s":"case","t":1041,"v":3.27},{"s":"case","t":1050,"v":3.04},{"s":"case","t":1059,"v":3.08},{"s":"case","t":1072,"v":3.0},{"s":"case","t":1084,"v":3.11},{"s":"case","t":1096,"v":3.23},{"s":"case","t":1109,"v":3.17},{"s":"case","t":1121,"v":3.08},{"s":"case","t":1130,"v":2.7},{"s":"case","t":1140,"v":2.41},{"s":"case","t":1149,"v":2.35},{"s":"case","t":1158,"v":2.25},{"s":"case","t":1167,"v":2.41},{"s":"case","t":1177,"v":2.66},{"s":"case","t":1189,"v":2.73},{"s":"case","t":1198,"v":2.57},{"s":"case","t":1211,"v":2.31},{"s":"case","t":1220,"v":1.9},{"s":"case","t":1229,"v":1.55},{"s":"case","t":1238,"v":1.14},{"s":"case","t":1248,"v":0.89},{"s":"case","t":1257,"v":0.79},{"s":"case","t":1266,"v":0.92},{"s":"case","t":1275,"v":1.36},{"s":"case","t":1285,"v":1.65},{"s":"case","t":1294,"v":1.55},{"s":"case","t":1306,"v":1.33},{"s":"case","t":1319,"v":1.14},{"s":"case","t":1331,"v":0.79},{"s":"case","t":1343,"v":0.54},{"s":"case","t":1356,"v":0.32},{"s":"case","t":1365,"v":0.13},{"s":"case","t":1377,"v":0.1},{"s":"case","t":1390,"v":-0.1},{"s":"case","t":1400,"v":-0.25}
    ]
  },
  "spacing": 78,
  "resolve": {"scale": {"color": "independent"}, "legend": {"color": "independent"}},
  "vconcat": [
    {
      "width": 866, "height": 647,
      "title": {"text": "L1", "orient": "left", "anchor": "middle", "font": "Liberation Serif", "fontSize": 24, "fontWeight": "bold", "color": "black", "offset": 175, "dx": -27},
      "resolve": {"axis": {"x": "independent", "y": "independent"}},
      "layer": [
        {
          "mark": {"type": "rule", "color": "black", "strokeWidth": 1},
          "encoding": {"y": {"datum": 0, "type": "quantitative", "scale": {"domain": [-6, 6], "reverse": true, "nice": false, "zero": false}, "axis": null}}
        },
        {
          "mark": {"type": "rule", "color": "black", "strokeWidth": 1, "strokeDash": [4, 3]},
          "encoding": {
            "x": {"datum": 0, "type": "quantitative", "scale": {"domain": [-200, 1400], "nice": false, "zero": false}, "axis": {"orient": "bottom", "values": [-200,-160,-120,-80,-40,0,40,80,120,160,200,240,280,320,360,400,440,480,520,560,600,640,680,720,760,800,840,880,920,960,1000,1040,1080,1120,1160,1200,1240,1280,1320,1360,1400], "tickSize": -6, "labels": false, "domain": false, "title": null}},
            "y": {"datum": -6, "type": "quantitative", "scale": {"domain": [-6, 6], "reverse": true, "nice": false, "zero": false}, "axis": null},
            "y2": {"datum": 6}
          }
        },
        {
          "mark": {"type": "rule", "color": "black", "strokeWidth": 1.2},
          "encoding": {
            "x": {"datum": -40, "type": "quantitative", "scale": {"domain": [-200, 1400], "nice": false, "zero": false}, "axis": null},
            "x2": {"datum": 40},
            "y": {"datum": -6, "type": "quantitative", "scale": {"domain": [-6, 6], "reverse": true, "nice": false, "zero": false}, "axis": null}
          }
        },
        {
          "data": {"values": [{"t": 289, "v": -4.75, "txt": "PZ"}]},
          "mark": {"type": "text", "fontSize": 41, "font": "Liberation Sans", "align": "center", "baseline": "alphabetic", "color": "black"},
          "encoding": {
            "x": {"field": "t", "type": "quantitative", "scale": {"domain": [-200, 1400], "nice": false, "zero": false}, "axis": null},
            "y": {"field": "v", "type": "quantitative", "scale": {"domain": [-6, 6], "reverse": true, "nice": false, "zero": false}, "axis": null},
            "text": {"field": "txt"}
          }
        },
        {
          "data": {"name": "l1"},
          "mark": {"type": "line", "strokeWidth": 2.1, "interpolate": "monotone"},
          "encoding": {
            "x": {"field": "t", "type": "quantitative", "scale": {"domain": [-200, 1400], "nice": false, "zero": false}, "axis": {"orient": "bottom", "values": [-200, 0, 200, 400, 600, 800, 1000, 1200, 1400], "labelExpr": "datum.value == 1400 ? '' : '' + datum.value", "tickSize": -10, "labelPadding": 15, "title": "Time (ms)", "titlePadding": 7, "labelFlush": false}},
            "y": {"field": "v", "type": "quantitative", "scale": {"domain": [-6, 6], "reverse": true, "nice": false, "zero": false}, "axis": {"values": [-6, -4, -2, 0, 2, 4, 6], "labelExpr": "'' + datum.value", "tickSize": -9, "labelPadding": 14, "labelFontSize": {"condition": {"test": "datum.value < 0", "value": 11}, "value": 14}, "title": "Potential ( μ V)", "titlePadding": 8}},
            "color": {"field": "s", "type": "nominal", "scale": {"domain": ["past", "future", "case"], "range": ["#000000", "#e8392f", "#1f4cff"]}, "legend": {"orient": "none", "legendX": 533, "legendY": 1, "title": null, "symbolType": "M-1.5,0H1.5", "symbolSize": 900, "symbolStrokeWidth": 2.5, "labelFontSize": 21, "labelFont": "Liberation Sans", "labelColor": "black", "labelOffset": 11, "labelLimit": 400, "rowPadding": 1, "labelExpr": "'Incongruent ' + datum.label"}},
            "detail": {"field": "s"}
          }
        }
      ]
    },
    {
      "width": 866, "height": 631,
      "title": {"text": "L2", "orient": "left", "anchor": "middle", "font": "Liberation Serif", "fontSize": 24, "fontWeight": "bold", "color": "black", "offset": 175, "dx": -27},
      "resolve": {"axis": {"x": "independent", "y": "independent"}},
      "layer": [
        {
          "mark": {"type": "rule", "color": "black", "strokeWidth": 1},
          "encoding": {"y": {"datum": 0, "type": "quantitative", "scale": {"domain": [-6, 6], "reverse": true, "nice": false, "zero": false}, "axis": null}}
        },
        {
          "mark": {"type": "rule", "color": "black", "strokeWidth": 1, "strokeDash": [4, 3]},
          "encoding": {
            "x": {"datum": 0, "type": "quantitative", "scale": {"domain": [-200, 1400], "nice": false, "zero": false}, "axis": {"orient": "bottom", "values": [-200,-160,-120,-80,-40,0,40,80,120,160,200,240,280,320,360,400,440,480,520,560,600,640,680,720,760,800,840,880,920,960,1000,1040,1080,1120,1160,1200,1240,1280,1320,1360,1400], "tickSize": -6, "labels": false, "domain": false, "title": null}},
            "y": {"datum": -6, "type": "quantitative", "scale": {"domain": [-6, 6], "reverse": true, "nice": false, "zero": false}, "axis": null},
            "y2": {"datum": 6}
          }
        },
        {
          "mark": {"type": "rule", "color": "black", "strokeWidth": 1.2},
          "encoding": {
            "x": {"datum": -40, "type": "quantitative", "scale": {"domain": [-200, 1400], "nice": false, "zero": false}, "axis": null},
            "x2": {"datum": 40},
            "y": {"datum": -6, "type": "quantitative", "scale": {"domain": [-6, 6], "reverse": true, "nice": false, "zero": false}, "axis": null}
          }
        },
        {
          "data": {"values": [{"t": 312, "v": -4.84, "txt": "PZ"}]},
          "mark": {"type": "text", "fontSize": 41, "font": "Liberation Sans", "align": "center", "baseline": "alphabetic", "color": "black"},
          "encoding": {
            "x": {"field": "t", "type": "quantitative", "scale": {"domain": [-200, 1400], "nice": false, "zero": false}, "axis": null},
            "y": {"field": "v", "type": "quantitative", "scale": {"domain": [-6, 6], "reverse": true, "nice": false, "zero": false}, "axis": null},
            "text": {"field": "txt"}
          }
        },
        {
          "data": {"name": "l2"},
          "mark": {"type": "line", "strokeWidth": 2.1, "interpolate": "monotone"},
          "encoding": {
            "x": {"field": "t", "type": "quantitative", "scale": {"domain": [-200, 1400], "nice": false, "zero": false}, "axis": {"orient": "bottom", "values": [-200, 0, 200, 400, 600, 800, 1000, 1200, 1400], "labelExpr": "datum.value == 1400 ? '' : '' + datum.value", "tickSize": -10, "labelPadding": 15, "title": "Time (ms)", "titlePadding": 7, "labelFlush": false}},
            "y": {"field": "v", "type": "quantitative", "scale": {"domain": [-6, 6], "reverse": true, "nice": false, "zero": false}, "axis": {"values": [-6, -4, -2, 0, 2, 4, 6], "labelExpr": "'' + datum.value", "tickSize": -9, "labelPadding": 14, "labelFontSize": {"condition": {"test": "datum.value < 0", "value": 11}, "value": 14}, "title": "Potential ( μ V)", "titlePadding": 8}},
            "color": {"field": "s", "type": "nominal", "scale": {"domain": ["past", "future", "case"], "range": ["#000000", "#e8392f", "#1f4cff"]}, "legend": {"orient": "none", "legendX": 550, "legendY": 4, "title": null, "symbolType": "M-1.5,0H1.5", "symbolSize": 900, "symbolStrokeWidth": 2.5, "labelFontSize": 21, "labelFont": "Liberation Sans", "labelColor": "black", "labelOffset": 11, "labelLimit": 400, "rowPadding": 1, "labelExpr": "'Incongruent ' + datum.label"}},
            "detail": {"field": "s"}
          }
        }
      ]
    }
  ]
}
